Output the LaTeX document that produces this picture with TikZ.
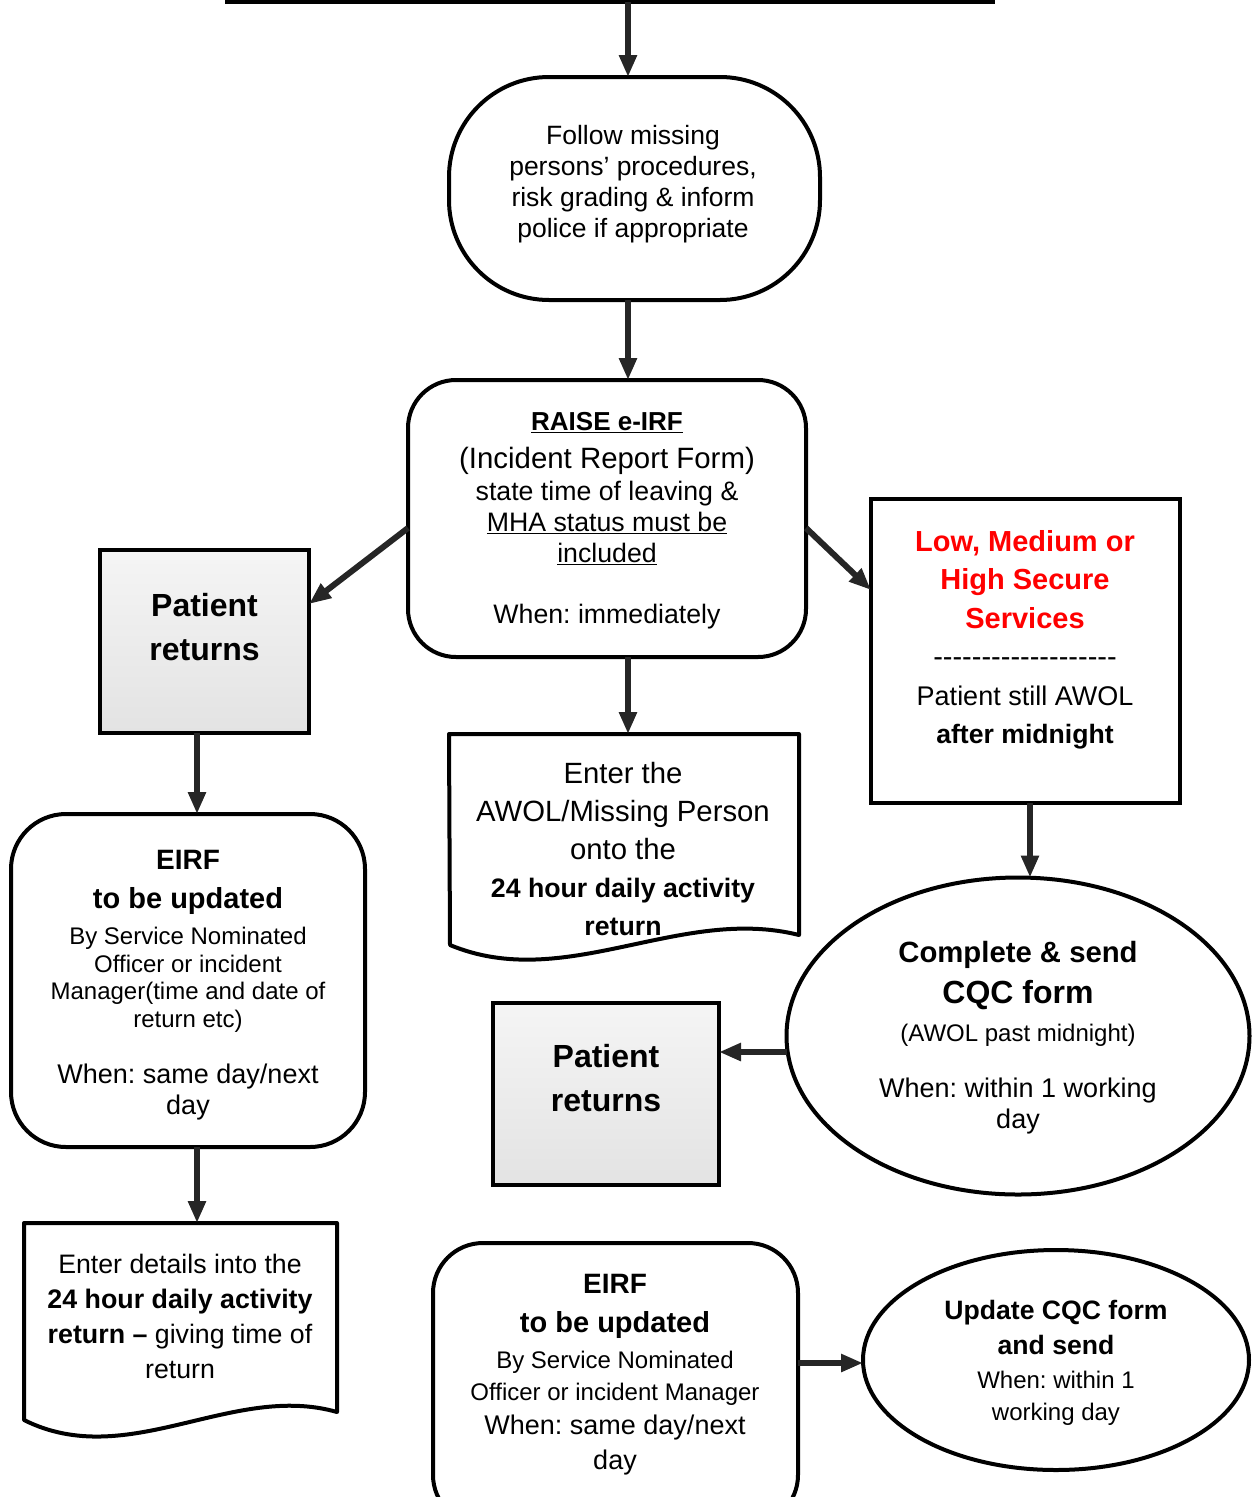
\documentclass[tikz,border=0pt]{standalone}
\usepackage{fontspec}
\setmainfont{Liberation Sans}
\usetikzlibrary{arrows.meta,shapes.geometric,calc}
\newcommand\fs[2]{\fontsize{#1}{#2}\selectfont}
\newcommand\hy{\mbox{-}}
\frenchspacing
\begin{document}
\begin{tikzpicture}[x=1pt,y=-1pt,
  bx/.style={draw, line width=4pt, inner sep=0pt, outer sep=0pt},
  rbx/.style={bx, rounded corners=#1},
  grad/.style={bx, top color=black!4, bottom color=black!11},
  ell/.style={bx, ellipse},
  docline/.style={line width=4pt, line join=round},
  arr/.style={draw=black!85, line width=6pt, -{Triangle[length=22pt,width=17pt]}},
  txt/.style={align=center, inner sep=0pt, outer sep=0pt, font=\frenchspacing},
]
\useasboundingbox (0,0) rectangle (1255,1497);

% top (cut-off) box
\node[bx, minimum width=766, minimum height=60] (top) at (610,-28) {};

% stadium
\node[rbx=100pt, minimum width=371, minimum height=223] (stad) at (634.5,188.5) {};
\node[txt, font=\fs{26.5}{31}] (t1) at (633,184) {Follow missing\\persons’ procedures,\\risk grading \& inform\\police if appropriate};

% RAISE e-IRF
\node[rbx=48pt, minimum width=398, minimum height=277] (raise) at (607,518.5) {};
\node[txt, font=\fs{26.7}{31}] (t2) at (607,521) {{\bfseries\fs{26}{31}\underline{RAISE e-IRF}}\\[7pt]{\fs{29.4}{31}(Incident Report Form)}\\[1pt]state time of leaving \&\\\underline{MHA status must be}\\\underline{included}\\[30pt]When: immediately};

% Patient returns 1
\node[grad, minimum width=209, minimum height=183] (pr1) at (204.5,641.5) {};
\node[txt, font=\fs{32}{44}\bfseries] (t3) at (204.5,627) {Patient\\returns};

% Secure services
\node[bx, minimum width=309, minimum height=304] (sec) at (1025.5,651) {};
\node[txt, font=\fs{27}{38.5}] (t4) at (1025,640) {{\color{red}\bfseries\fs{29}{38.5}Low, Medium or}\\{\color{red}\bfseries\fs{29}{38.5}High Secure}\\{\color{red}\bfseries\fs{29}{38.5}Services}\\{\fs{29}{38.5}\hy\hy\hy\hy\hy\hy\hy\hy\hy\hy\hy\hy\hy\hy\hy\hy\hy\hy\hy}\\Patient still AWOL\\{\bfseries\fs{26.6}{36}after midnight}};

% Document 1
\node[minimum width=350, minimum height=200, inner sep=0pt, outer sep=0pt] (doc1) at (624,834) {};
\draw[docline] (449,734) -- (799,734) -- (799,935) .. controls (680,905) and (565,993) .. (450,945) -- cycle;
\node[txt, font=\fs{29.3}{38}] (t5) at (623,849) {Enter the\\AWOL/Missing Person\\onto the\\{\bfseries\fs{26.7}{38}24 hour daily activity}\\{\bfseries\fs{26.7}{38}return}};

% EIRF 1
\node[rbx=55pt, minimum width=354, minimum height=333] (eirf1) at (188,980.5) {};
\node[txt, font=\fs{24}{27.5}] (t6) at (188,985) {{\bfseries\fs{28}{30}EIRF}\\[11.5pt]{\bfseries\fs{29}{30}to be updated}\\[8.5pt]By Service Nominated\\Officer or incident\\Manager(time and date of\\return etc)\\[28.5pt]{\fs{27}{30}When: same day/next}\\[3.5pt]{\fs{27}{30}day}};

% CQC ellipse
\node[ell, minimum width=463, minimum height=317] (cqc) at (1018,1036) {};
\node[txt, font=\fs{27}{31}] (t7) at (1018,1038) {{\bfseries\fs{29.3}{31}Complete \& send}\\[10pt]{\bfseries\fs{32}{31}CQC form}\\[7pt]{\fs{24}{31}(AWOL past midnight)}\\[25pt]When: within 1 working\\day};

% Patient returns 2
\node[grad, minimum width=226, minimum height=182] (pr2) at (606,1094) {};
\node[txt, font=\fs{32}{44}\bfseries] (t8) at (606,1078) {Patient\\returns};

% Document 2
\node[minimum width=313, minimum height=190, inner sep=0pt, outer sep=0pt] (doc2) at (180.5,1318) {};
\draw[docline] (24,1223) -- (337,1223) -- (337,1412) .. controls (232,1382) and (128,1472) .. (24,1420) -- cycle;
\node[txt, font=\fs{26.7}{35}] (t9) at (180,1316) {Enter details into the\\{\bfseries\fs{26.8}{35}24 hour daily activity}\\{\bfseries\fs{26.8}{35}return –} giving time of\\return};

% EIRF 2
\node[rbx=50pt, minimum width=365, minimum height=282] (eirf2) at (615.5,1384) {};
\node[txt, font=\fs{24}{32}] (t10) at (615,1375) {{\bfseries\fs{28}{30}EIRF}\\[7pt]{\bfseries\fs{29}{30}to be updated}\\[4pt]By Service Nominated\\Officer or incident Manager\\[2pt]{\fs{27}{30}When: same day/next}\\[3pt]{\fs{27}{30}day}};

% Update ellipse
\node[ell, minimum width=386, minimum height=220] (upd) at (1056,1360) {};
\node[txt, font=\fs{24}{32}] (t11) at (1056,1363) {{\bfseries\fs{26.6}{32}Update CQC form}\\[3pt]{\bfseries\fs{26.6}{32}and send}\\[2pt]When: within 1\\working day};

% connectors
\draw[arr] ([xshift=18pt]top.south) -- ([xshift=-6.5pt]stad.north);
\draw[arr] ([xshift=-6.5pt]stad.south) -- ([xshift=21pt]raise.north);
\draw[arr] ([yshift=-9.5pt]raise.west) -- ([yshift=37.5pt]pr1.east);
\draw[arr] ([yshift=-9.5pt]raise.east) -- ([yshift=61pt]sec.west);
\draw[arr] ([xshift=21pt]raise.south) -- ([xshift=4pt]doc1.north);
\draw[arr] ([xshift=-7.5pt]pr1.south) -- ([xshift=9pt]eirf1.north);
\coordinate (s1) at ([xshift=4.5pt]sec.south);
\draw[arr] (s1) -- (s1 |- cqc.north);
\coordinate (c1) at ([yshift=-16pt]cqc.west);
\draw[arr] (c1) -- (c1 -| pr2.east);
\draw[arr] ([xshift=9pt]eirf1.south) -- ([xshift=16.5pt]doc2.north);
\coordinate (e1) at ([yshift=21pt]eirf2.east);
\draw[arr] (e1) -- (e1 -| upd.west);
\end{tikzpicture}
\end{document}
